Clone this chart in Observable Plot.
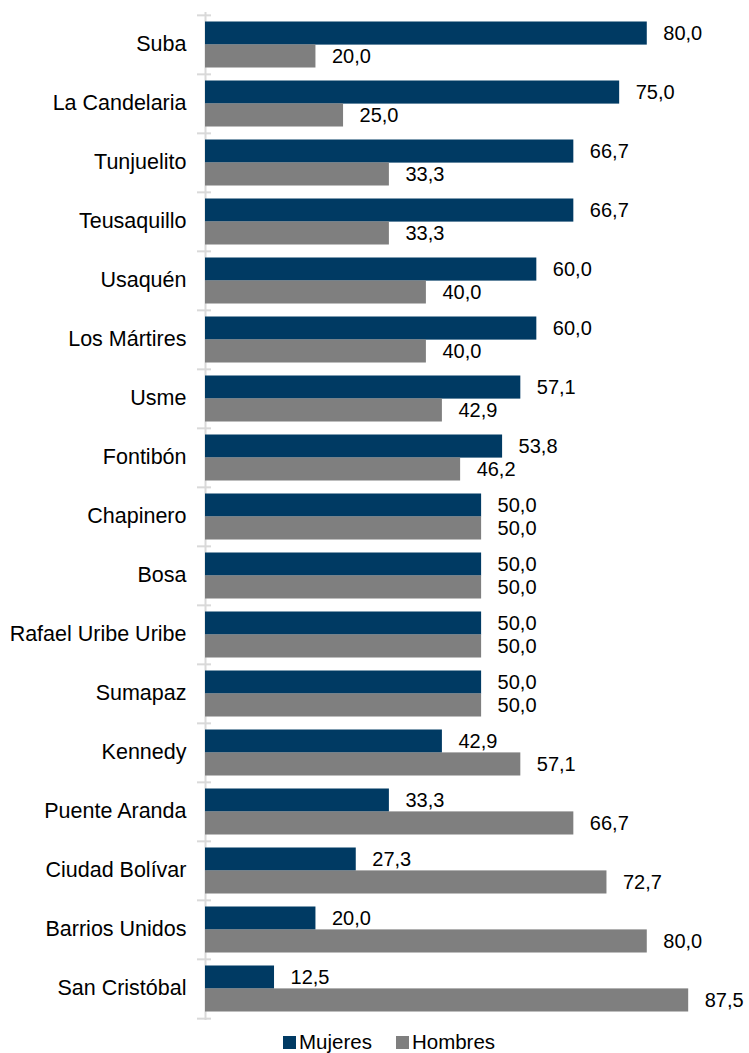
<!DOCTYPE html>
<html>
<head>
<meta charset="utf-8">
<script src="https://cdn.jsdelivr.net/npm/d3@7"></script>
<script src="https://cdn.jsdelivr.net/npm/@observablehq/plot@0.6"></script>
<style>
  html, body { margin: 0; padding: 0; background: #fff; }
  body { width: 749px; height: 1053px; overflow: hidden; font-family: "Liberation Sans", Arial, sans-serif; }
  #legend { display: flex; align-items: center; height: 28px; padding-top: 6px; box-sizing: border-box; padding-left: 283px; font-size: 20.5px; color: #000; }
  #legend .item { display: flex; align-items: center; margin-right: 24px; }
  #legend .sw { width: 13px; height: 13px; margin-right: 3px; }
</style>
</head>
<body>
<div id="chart"></div>
<div id="legend"></div>
<script>
const categories = ["Suba","La Candelaria","Tunjuelito","Teusaquillo","Usaquén","Los Mártires","Usme","Fontibón","Chapinero","Bosa","Rafael Uribe Uribe","Sumapaz","Kennedy","Puente Aranda","Ciudad Bolívar","Barrios Unidos","San Cristóbal"];
const mujeres = [80.0,75.0,66.7,66.7,60.0,60.0,57.1,53.8,50.0,50.0,50.0,50.0,42.9,33.3,27.3,20.0,12.5];
const hombres = [20.0,25.0,33.3,33.3,40.0,40.0,42.9,46.2,50.0,50.0,50.0,50.0,57.1,66.7,72.7,80.0,87.5];
const series = ["Mujeres","Hombres"];
const colors = ["#003a63","#7f7f7f"];

const rows = categories.map((c, i) => ({category: c, Mujeres: mujeres[i], Hombres: hombres[i]}));
const fmt = v => d3.format(".1f")(v).replace(".", ",");

const W = 749, H = 1025, mt = 12, mb = 5;
const step = (H - mt - mb) / categories.length;
const barH = 23.4, outer = 6.5, inner = step - outer - barH;

const chart = Plot.plot({
  width: W,
  height: H,
  marginLeft: 205,
  marginRight: 47,
  marginTop: mt,
  marginBottom: mb,
  style: {fontFamily: "'Liberation Sans', Arial, sans-serif", fontSize: "20px", color: "#000", background: "#fff"},
  x: {domain: [0, 90], axis: null},
  y: {domain: categories, padding: 0, axis: null},
  marks: [
    Plot.axisY({label: null, tickSize: 0, tickPadding: 19, fontSize: 21.5, dy: -1}),
    Plot.ruleX([0], {stroke: "#d9d9d9", strokeWidth: 2}),
    Plot.ruleY(categories, {y: d => d, x1: 0, x2: 0, insetLeft: -8, insetRight: -6, dy: -step / 2, stroke: "#d9d9d9", strokeWidth: 2}),
    Plot.ruleY(categories.slice(-1), {y: d => d, x1: 0, x2: 0, insetLeft: -8, insetRight: -6, dy: step / 2, stroke: "#d9d9d9", strokeWidth: 2}),
    Plot.barX(rows, {y: "category", x: "Mujeres", fill: colors[0], insetTop: outer, insetBottom: inner}),
    Plot.barX(rows, {y: "category", x: "Hombres", fill: colors[1], insetTop: inner, insetBottom: outer}),
    Plot.text(rows, {y: "category", x: "Mujeres", text: d => fmt(d.Mujeres), dx: 16, dy: -(step / 2 - outer - barH / 2), textAnchor: "start", fill: "#000", fontSize: 20}),
    Plot.text(rows, {y: "category", x: "Hombres", text: d => fmt(d.Hombres), dx: 16, dy: (step / 2 - outer - barH / 2), textAnchor: "start", fill: "#000", fontSize: 20})
  ]
});
document.getElementById("chart").appendChild(chart);

const legend = document.getElementById("legend");
series.forEach((s, i) => {
  const item = document.createElement("div");
  item.className = "item";
  item.innerHTML = `<span class="sw" style="background:${colors[i]}"></span><span>${s}</span>`;
  legend.appendChild(item);
});
</script>
</body>
</html>
